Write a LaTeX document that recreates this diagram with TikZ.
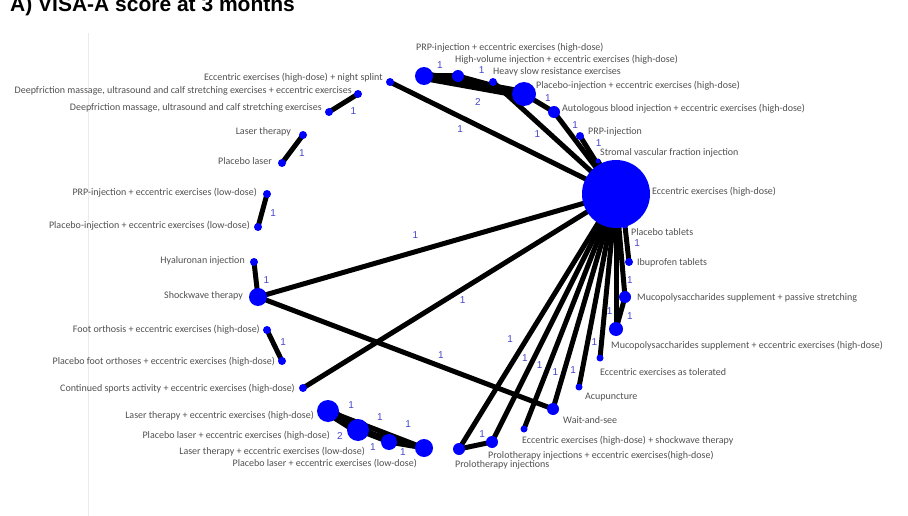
\documentclass[tikz,border=0pt]{standalone}
\usepackage{fontspec}
\setmainfont{Carlito}
\newfontfamily\arialfont{Liberation Sans}
\usetikzlibrary{positioning,backgrounds}
\definecolor{nodeblue}{RGB}{0,0,255}
\definecolor{ink}{RGB}{80,80,80}
\definecolor{numblue}{RGB}{70,70,205}
\tikzset{
  trt/.style={circle,fill=nodeblue,inner sep=0pt},
  lab/.style={font=\fontsize{10}{12}\selectfont,text=ink,inner sep=0pt},
  num/.style={font=\arialfont\fontsize{10}{12}\selectfont,text=numblue,inner sep=1pt},
  lnk/.style={line width=5pt},
  lnktwo/.style={line width=10pt},
}

\begin{document}
\begin{tikzpicture}[x=1pt,y=-1pt]
  \useasboundingbox (0,0) rectangle (908,516);
  \node[font=\arialfont\bfseries\fontsize{21}{24}\selectfont,anchor=base west,inner sep=0pt]
    (title) at (10,11.5) {A) VISA-A score at 3 months};
  \draw[black!8] (88,33) -- (88,516);

  % treatments
  \node[trt,minimum size=68pt] (ecc) at (616,194) {};
  \node[trt,minimum size=18pt] (prpecc) at (424,76) {};
  \node[trt,minimum size=12pt] (hivol) at (458,76) {};
  \node[trt,minimum size=8pt] (heavy) at (493,82) {};
  \node[trt,minimum size=24pt] (plinj) at (524,94) {};
  \node[trt,minimum size=12pt] (auto) at (554,112) {};
  \node[trt,minimum size=8pt] (prpinj) at (580,136) {};
  \node[trt,minimum size=5pt] (stromal) at (598,161) {};
  \node[trt,minimum size=8pt] (night) at (390,82) {};
  \node[trt,minimum size=8pt] (deepecc) at (358,94) {};
  \node[trt,minimum size=8pt] (deep) at (329,112) {};
  \node[trt,minimum size=8pt] (laser) at (303,135) {};
  \node[trt,minimum size=8pt] (pllaser) at (282,163) {};
  \node[trt,minimum size=8pt] (prplow) at (267,194) {};
  \node[trt,minimum size=8pt] (pllow) at (258,227) {};
  \node[trt,minimum size=8pt] (hyal) at (254,262) {};
  \node[trt,minimum size=18pt] (shock) at (258,297) {};
  \node[trt,minimum size=8pt] (foot) at (267,330) {};
  \node[trt,minimum size=8pt] (plfoot) at (282,361) {};
  \node[trt,minimum size=8pt] (sport) at (303,388) {};
  \node[trt,minimum size=22pt] (lhd) at (328,411) {};
  \node[trt,minimum size=22pt] (plhd) at (358,430) {};
  \node[trt,minimum size=16pt] (lld) at (389,442) {};
  \node[trt,minimum size=18pt] (plld) at (424,448) {};
  \node[trt,minimum size=12pt] (prolo) at (459,449) {};
  \node[trt,minimum size=12pt] (proloecc) at (492,442) {};
  \node[trt,minimum size=7pt] (eccshock) at (524,429) {};
  \node[trt,minimum size=12pt] (wait) at (553,409) {};
  \node[trt,minimum size=7pt] (acu) at (579,387) {};
  \node[trt,minimum size=7pt] (tol) at (600,358) {};
  \node[trt,minimum size=14pt] (mucoecc) at (616,329) {};
  \node[trt,minimum size=12pt] (mucopas) at (625,297) {};
  \node[trt,minimum size=8pt] (ibu) at (629,262) {};
  \node[trt,minimum size=5pt] (pltab) at (625,226) {};

  % names
  \node[lab,anchor=west] (ecc-t) at (652,192) {Eccentric exercises (high-dose)};
  \node[lab,anchor=west] (prpecc-t) at (416,48) {PRP-injection + eccentric exercises (high-dose)};
  \node[lab,anchor=west] (hivol-t) at (455,60) {High-volume injection + eccentric exercises (high-dose)};
  \node[lab,anchor=west] (heavy-t) at (493,72) {Heavy slow resistance exercises};
  \node[lab,anchor=west] (plinj-t) at (536,86) {Placebo-injection + eccentric exercises (high-dose)};
  \node[lab,anchor=west] (auto-t) at (562,109) {Autologous blood injection + eccentric exercises (high-dose)};
  \node[lab,anchor=west] (prpinj-t) at (588,132) {PRP-injection};
  \node[lab,anchor=west] (stromal-t) at (600,153) {Stromal vascular fraction injection};
  \node[lab,anchor=west] (pltab-t) at (631,232) {Placebo tablets};
  \node[lab,anchor=west] (ibu-t) at (637,263) {Ibuprofen tablets};
  \node[lab,anchor=west] (mucopas-t) at (637,298) {Mucopolysaccharides supplement + passive stretching};
  \node[lab,anchor=west] (mucoecc-t) at (611,346) {Mucopolysaccharides supplement + eccentric exercises (high-dose)};
  \node[lab,anchor=west] (tol-t) at (600,372) {Eccentric exercises as tolerated};
  \node[lab,anchor=west] (acu-t) at (585,397) {Acupuncture};
  \node[lab,anchor=west] (wait-t) at (563,420) {Wait-and-see};
  \node[lab,anchor=west] (eccshock-t) at (522,441) {Eccentric exercises (high-dose) + shockwave therapy};
  \node[lab,anchor=west] (proloecc-t) at (488,456) {Prolotherapy injections + eccentric exercises(high-dose)};
  \node[lab,anchor=west] (prolo-t) at (455,465) {Prolotherapy injections};
  \node[lab,anchor=east] (night-t) at (383,78) {Eccentric exercises (high-dose) + night splint};
  \node[lab,anchor=east] (deepecc-t) at (352,91) {Deepfriction massage, ultrasound and calf stretching exercises + eccentric exercises};
  \node[lab,anchor=east] (deep-t) at (322,108) {Deepfriction massage, ultrasound and calf stretching exercises};
  \node[lab,anchor=east] (laser-t) at (291,132) {Laser therapy};
  \node[lab,anchor=east] (pllaser-t) at (272,161) {Placebo laser};
  \node[lab,anchor=east] (prplow-t) at (257,193) {PRP-injection + eccentric exercises (low-dose)};
  \node[lab,anchor=east] (pllow-t) at (250,226) {Placebo-injection + eccentric exercises (low-dose)};
  \node[lab,anchor=east] (hyal-t) at (245,261) {Hyaluronan injection};
  \node[lab,anchor=east] (shock-t) at (243,296) {Shockwave therapy};
  \node[lab,anchor=east] (foot-t) at (260,330) {Foot orthosis + eccentric exercises (high-dose)};
  \node[lab,anchor=east] (plfoot-t) at (275,362) {Placebo foot orthoses + eccentric exercises (high-dose)};
  \node[lab,anchor=east] (sport-t) at (295,389) {Continued sports activity + eccentric exercises (high-dose)};
  \node[lab,anchor=east] (lhd-t) at (314,416) {Laser therapy + eccentric exercises (high-dose)};
  \node[lab,anchor=east] (plhd-t) at (330,436) {Placebo laser + eccentric exercises (high-dose)};
  \node[lab,anchor=east] (lld-t) at (365,452) {Laser therapy + eccentric exercises (low-dose)};
  \node[lab,anchor=east] (plld-t) at (417,464) {Placebo laser + eccentric exercises (low-dose)};

  % comparisons
  \begin{scope}[on background layer]
    \draw[lnk] (prpecc.center) -- node[num,pos=0.47,above=4pt]{1} (hivol.center);
    \draw[lnk] (hivol.center) -- node[num,pos=0.36,above=5pt]{1} (plinj.center);
    \draw[lnktwo] (prpecc.center) -- node[num,pos=0.54,below=7pt]{2} (plinj.center);
    \draw[lnk] (heavy.center) -- node[num,pos=0.36,below=5pt]{1} (ecc.center);
    \draw[lnk] (plinj.center) -- node[num,pos=0.8,above=3pt]{1} (auto.center);
    \draw[lnk] (auto.center) -- node[num,pos=0.16,right=5pt]{1} (ecc.center);
    \draw[lnk] (prpinj.center) -- node[num,pos=0.12,right=8pt]{1} (ecc.center);
    \draw[lnk] (stromal.center) -- (ecc.center);
    \draw[lnk] (night.center) -- node[num,pos=0.31,below=5pt]{1} (ecc.center);
    \draw[lnk] (deepecc.center) -- node[num,pos=0.65,right=8pt,yshift=-5pt]{1} (deep.center);
    \draw[lnk] (laser.center) -- node[num,pos=0.64,right=6pt]{1} (pllaser.center);
    \draw[lnk] (prplow.center) -- node[num,pos=0.58,right=5pt]{1} (pllow.center);
    \draw[lnk] (hyal.center) -- node[num,pos=0.51,right=4pt]{1} (shock.center);
    \draw[lnk] (shock.center) -- node[num,pos=0.44,above=10pt]{1} (ecc.center);
    \draw[lnk] (shock.center) -- node[num,pos=0.62,above=4pt]{1} (wait.center);
    \draw[lnk] (foot.center) -- node[num,pos=0.39,right=4pt]{1} (plfoot.center);
    \draw[lnk] (sport.center) -- node[num,pos=0.51,below=4pt]{1} (ecc.center);
    \draw[lnktwo] (lhd.center) -- node[num,pos=0.5,below=6pt,xshift=-3pt]{2} (plhd.center);
    \draw[lnk] (lhd.center) -- node[num,pos=0.38,above=11pt]{1} (lld.center);
    \draw[lnk] (lhd.center) -- node[num,pos=0.54,above=7pt]{1} (plld.center);
    \draw[lnk] (plhd.center) -- node[num,pos=0.76,above=13pt]{1} (plld.center);
    \draw[lnk] (plhd.center) -- node[num,pos=0.48,below=4pt]{1} (lld.center);
    \draw[lnk] (lld.center) -- node[num,pos=0.4,below=1pt]{1} (plld.center);
    \draw[lnk] (prolo.center) -- node[num,pos=0.7,above=3pt]{1} (proloecc.center);
    \draw[lnk] (prolo.center) -- node[num,pos=0.43,left=10pt]{1} (ecc.center);
    \draw[lnk] (proloecc.center) -- node[num,pos=0.34,left=3pt]{1} (ecc.center);
    \draw[lnk] (eccshock.center) -- node[num,pos=0.27,left=3pt]{1} (ecc.center);
    \draw[lnk] (wait.center) -- node[num,pos=0.17,left=2pt]{1} (ecc.center);
    \draw[lnk] (acu.center) -- node[num,pos=0.09,left=3pt]{1} (ecc.center);
    \draw[lnk] (tol.center) -- node[num,pos=0.1,left=1pt]{1} (ecc.center);
    \draw[lnk] (mucoecc.center) -- node[num,pos=0.13,left]{1} (ecc.center);
    \draw[lnk] (mucoecc.center) -- node[num,pos=0.4,right=4pt]{1} (mucopas.center);
    \draw[lnk] (mucopas.center) -- node[num,pos=0.16,right]{1} (ecc.center);
    \draw[lnk] (pltab.center) -- node[num,pos=0.47,right=4pt]{1} (ibu.center);
  \end{scope}
\end{tikzpicture}
\end{document}
